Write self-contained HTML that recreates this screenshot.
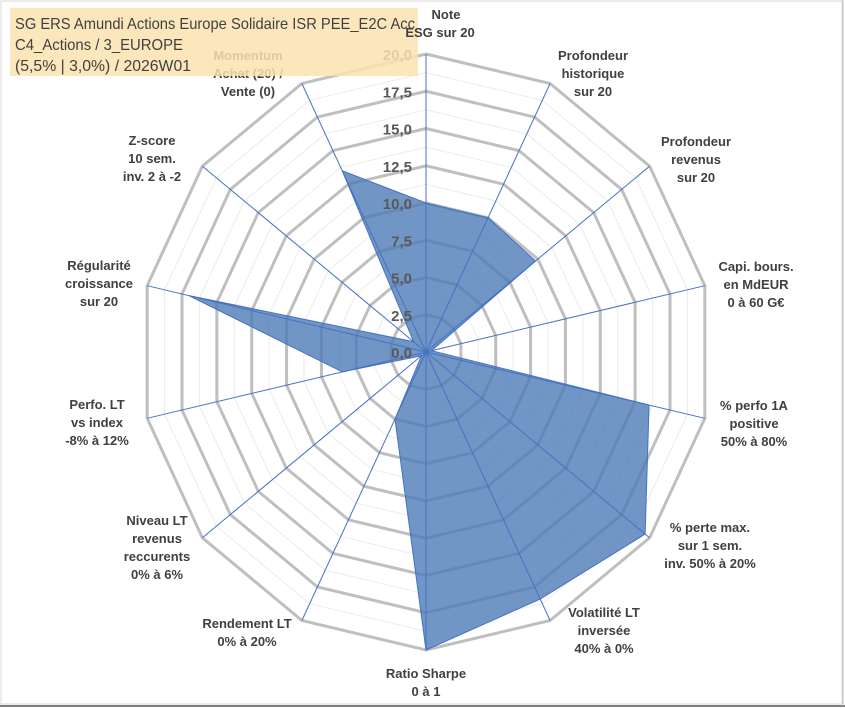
<!DOCTYPE html>
<html><head><meta charset="utf-8"><style>
html,body{margin:0;padding:0;background:#fff;}
svg{display:block;font-family:"Liberation Sans",sans-serif;}
</style></head><body>
<svg id="chart" width="845" height="709" viewBox="0 0 845 709">
<rect x="1" y="1" width="841" height="703" fill="#fff" stroke="#d9d9d9"/>
<line x1="0" y1="706" x2="845" y2="706" stroke="#7f7f7f" stroke-width="2"/>
<line x1="843" y1="0" x2="843" y2="706" stroke="#bfbfbf" stroke-width="1"/>
<g id="grid"></g><g id="series"></g><g id="ticks"></g><g id="labels"></g>
<rect x="10" y="8" width="408" height="68" fill="#fbe3b0" fill-opacity="0.85"/>
<g font-size="16" fill="#404040">
<text x="15" y="29" textLength="400" lengthAdjust="spacingAndGlyphs">SG ERS Amundi Actions Europe Solidaire ISR PEE_E2C Acc</text>
<text x="15" y="50" textLength="168" lengthAdjust="spacingAndGlyphs">C4_Actions / 3_EUROPE</text>
<text x="15" y="71" textLength="176" lengthAdjust="spacingAndGlyphs">(5,5% | 3,0%) / 2026W01</text>
</g>
<g id="overlabels"></g>
</svg>
<script>
const categories = [
 ["Note","ESG sur 20"],["Profondeur","historique","sur 20"],["Profondeur","revenus","sur 20"],
 ["Capi. bours.","en MdEUR","0 à 60 G€"],["% perfo 1A","positive","50% à 80%"],
 ["% perte max.","sur 1 sem.","inv. 50% à 20%"],["Volatilité LT","inversée","40% à 0%"],
 ["Ratio Sharpe","0 à 1"],["Rendement LT","0% à 20%"],["Niveau LT","revenus","reccurents","0% à 6%"],
 ["Perfo. LT","vs index","-8% à 12%"],["Régularité","croissance","sur 20"],
 ["Z-score","10 sem.","inv. 2 à -2"],["Momentum","Achat (20) /","Vente (0)"]
];
const values = [10, 10, 9.8, 0.4, 16, 19.6, 18.4, 20, 5, 0.4, 6, 17, 1.1, 13.5];
const tickLabels = ["0,0","2,5","5,0","7,5","10,0","12,5","15,0","17,5","20,0"];
const tickValues = [0,2.5,5,7.5,10,12.5,15,17.5,20];
const labelPos = [[440,14],[593,55],[696,141],[756,266],[754,405],[710,527],[604,612],[426,673],[247,623],[157,520],[97,404],[99,265],[152,140],[248,55]];

const NS="http://www.w3.org/2000/svg";
const cx=426, cy=352, RX=286, RY=298, VMAX=20, N=categories.length;
function ang(i){return i*2*Math.PI/N;}
function pt(i,v){const f=v/VMAX;return [cx+f*RX*Math.sin(ang(i)), cy-f*RY*Math.cos(ang(i))];}
function mk(tag,attrs,parent){const e=document.createElementNS(NS,tag);for(const k in attrs)e.setAttribute(k,attrs[k]);parent.appendChild(e);return e;}
const grid=document.getElementById('grid');
for(let k=1;k<=16;k++){
  const v=k*1.25;
  const pts=[];for(let i=0;i<N;i++)pts.push(pt(i,v).join(','));
  const major=k%2===0;
  const p=mk('polygon',{points:pts.join(' '),fill:'none',stroke:major?'#bfbfbf':'#ebebeb','stroke-width':major?3:1},grid);
  
  
}
const series=document.getElementById('series');
const sp=values.map((v,i)=>pt(i,v).join(','));
const poly=mk('polygon',{points:sp.join(' '),fill:'#4e7ab5','fill-opacity':0.8,stroke:'#4472c4','stroke-width':1},series);


for(let i=0;i<N;i++){
  const [x,y]=pt(i,VMAX);
  const l=mk('line',{x1:cx,y1:cy,x2:x,y2:y,stroke:'#4472c4','stroke-width':1},series);
  
  
}
const ticks=document.getElementById('ticks');
tickValues.forEach((v,k)=>{
  const y=cy-v/VMAX*RY;
  const t=mk('text',{x:412,y:y+6,'text-anchor':'end','font-size':15,'font-weight':'bold',fill:'#595959'},ticks);
  t.textContent=tickLabels[k];
  
  
});
const labels=document.getElementById('labels');
categories.forEach((lines,i)=>{
  const [x,y]=labelPos[i];
  const parent = (i===0)?document.getElementById('overlabels'):labels;
  const t=mk('text',{x:x,y:y+5,'text-anchor':'middle','font-size':13,'font-weight':'bold',fill:'#404040'},parent);
  
  
  lines.forEach((s,j)=>{const ts=mk('tspan',{x:(i===0&&j===0)?x+6:x,dy:j?18:0},t);ts.textContent=s;});
});
</script>
</body></html>
